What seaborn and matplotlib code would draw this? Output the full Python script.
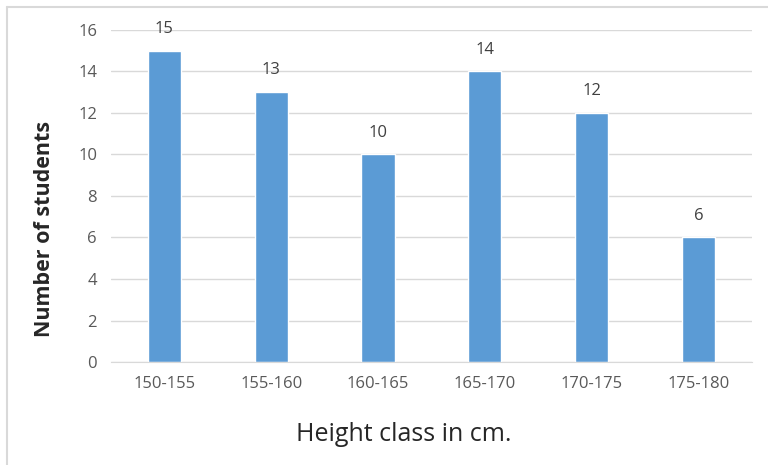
import matplotlib
matplotlib.use("Agg")
import matplotlib.pyplot as plt
from matplotlib.lines import Line2D
import seaborn as sns
import pandas as pd

classes = ["150-155", "155-160", "160-165", "165-170", "170-175", "175-180"]
students = [15, 13, 10, 14, 12, 6]
y_ticks = [0, 2, 4, 6, 8, 10, 12, 14, 16]

df = pd.DataFrame({"cls": classes, "n": students})

sns.set_style("white")
plt.rcParams['font.family'] = ['Open Sans', 'DejaVu Sans']

fig = plt.figure(figsize=(7.68, 4.65), dpi=100)
ax = fig.add_axes([0.1445, 0.2215, 0.8345, 0.714])

sns.barplot(data=df, x="cls", y="n", color="#5B9BD5", saturation=1, width=0.31, ax=ax)
for c in ax.containers:
    ax.bar_label(c, padding=10, fontsize=12, color="#404040")

ax.set_ylim(0, 16)
ax.set_yticks(y_ticks)
ax.set_xlim(-0.5, 5.5)
ax.yaxis.grid(True, color="#D9D9D9", lw=1)
ax.set_axisbelow(True)
for s in ["top", "right", "left"]:
    ax.spines[s].set_visible(False)
ax.spines["bottom"].set_color("#D9D9D9")
ax.tick_params(axis="both", length=0, labelsize=12, labelcolor="#595959")
ax.tick_params(axis="x", pad=10)
ax.tick_params(axis="y", pad=10)
ax.set_xlabel("Height class in cm.", fontsize=18)
ax.set_ylabel("Number of students", fontsize=15.5, fontweight="bold")
ax.xaxis.set_label_coords(0.457, -0.182)
ax.yaxis.set_label_coords(-0.088, 0.40)

# chart frame: only top and left edges fall inside the image
fig.add_artist(Line2D([0.009, 1.0], [0.984, 0.984], transform=fig.transFigure,
                      color="#D9D9D9", lw=1.5))
fig.add_artist(Line2D([0.009, 0.009], [0.0, 0.984], transform=fig.transFigure,
                      color="#D9D9D9", lw=1.5))

fig.savefig("out.png", dpi=100)
